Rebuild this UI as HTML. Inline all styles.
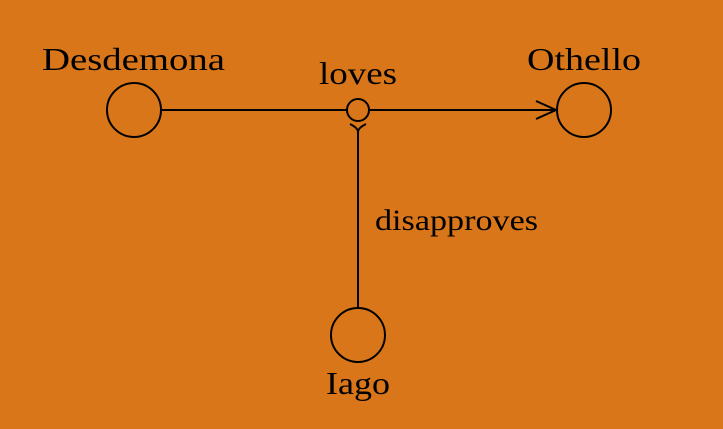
<!DOCTYPE html>
<html><head><style>
body{margin:0;background:#d9761a;}
svg{display:block}
text{font-family:"Liberation Serif",serif;font-size:32px;fill:#000}
</style></head><body>
<svg width="723" height="429" viewBox="0 0 723 429">
<rect width="723" height="429" fill="#d9761a"/>
<g stroke="#000" stroke-width="2" fill="none">
<circle cx="134" cy="110" r="27"/>
<circle cx="584" cy="110" r="27"/>
<circle cx="358" cy="335" r="27"/>
<circle cx="358" cy="110" r="11"/>
<line x1="161" y1="110" x2="347" y2="110"/>
<line x1="369" y1="110" x2="556" y2="110"/>
<path d="M536 101 L556 110 L536 119"/>
<line x1="358" y1="131" x2="358" y2="308"/>
<path d="M350 124 Q358 128 358 132 Q358 128 366 124"/>
</g>
<text x="42" y="70" textLength="183" lengthAdjust="spacingAndGlyphs">Desdemona</text>
<text x="527" y="70" textLength="114" lengthAdjust="spacingAndGlyphs">Othello</text>
<text x="319" y="84" textLength="78" lengthAdjust="spacingAndGlyphs">loves</text>
<text x="375" y="230" textLength="163" lengthAdjust="spacingAndGlyphs" style="font-size:30px">disapproves</text>
<text x="326" y="394" textLength="64" lengthAdjust="spacingAndGlyphs">Iago</text>
</svg>
</body></html>
